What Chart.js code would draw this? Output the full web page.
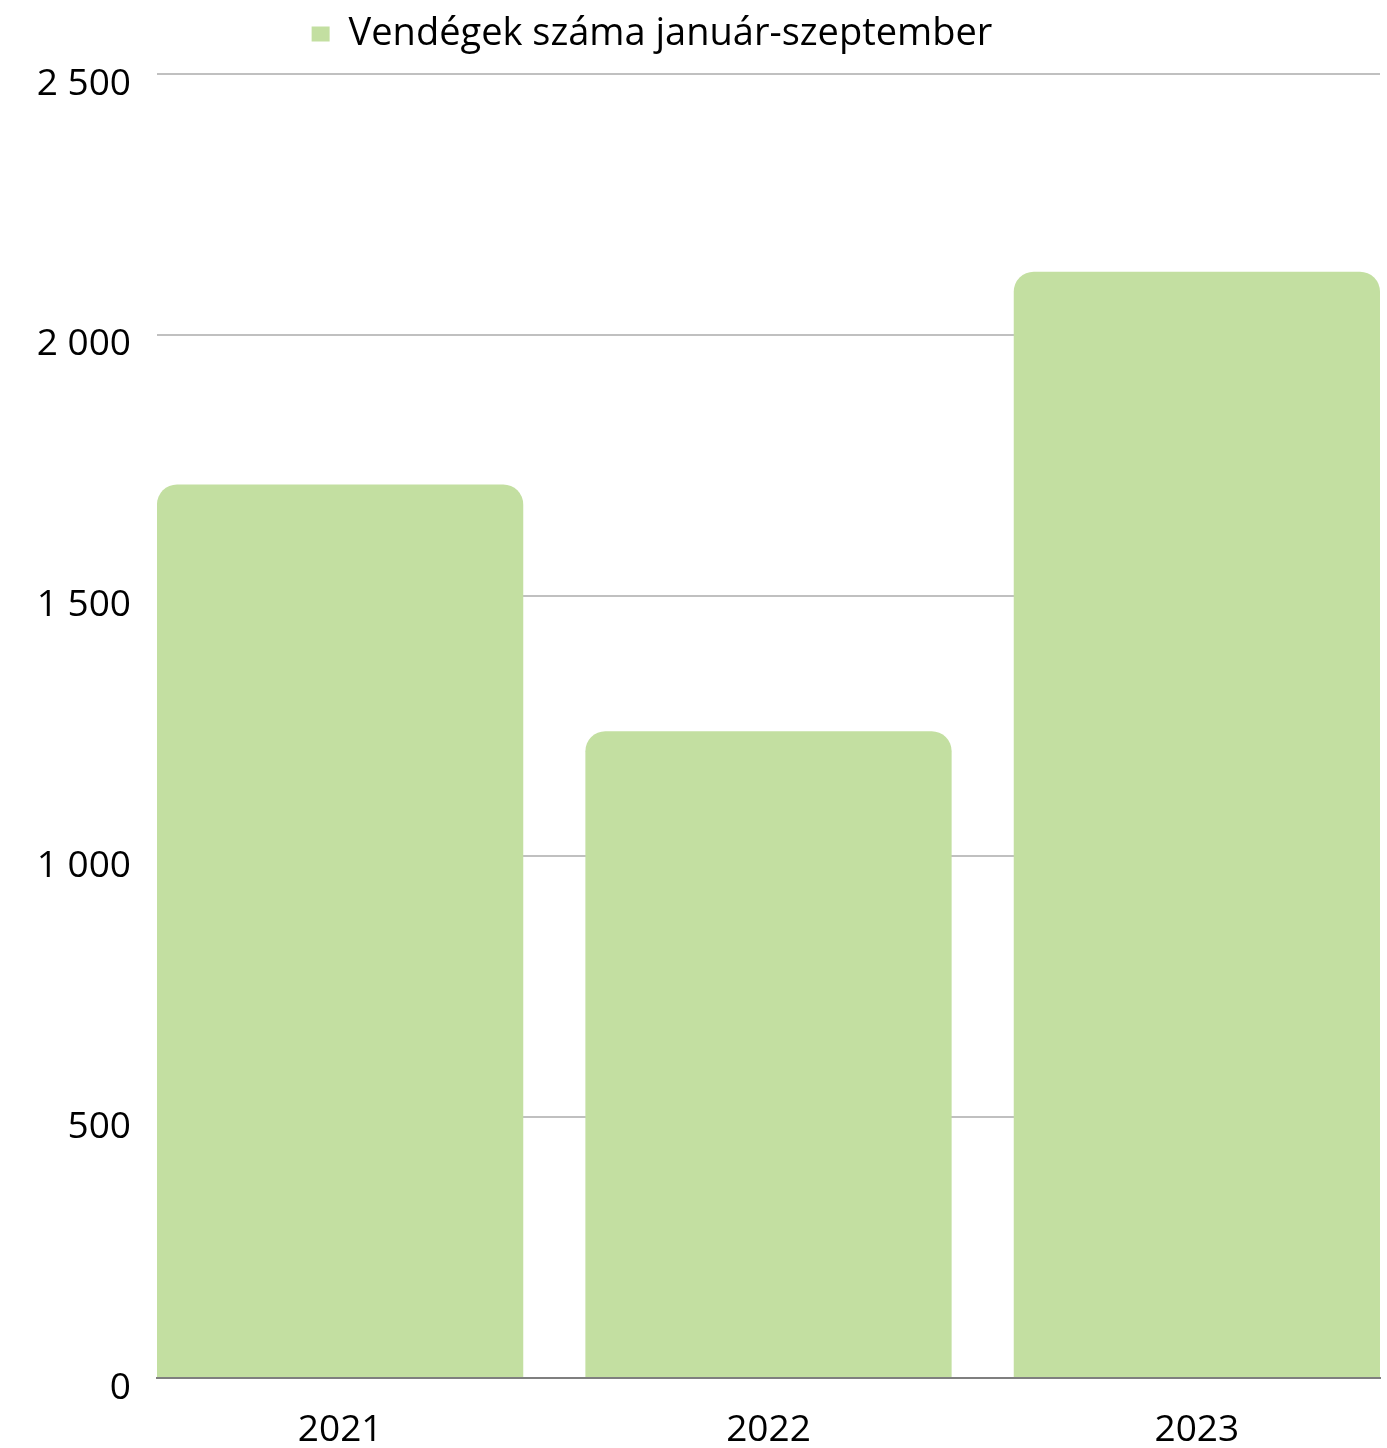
<!DOCTYPE html>
<html>
<head>
<meta charset="utf-8">
<script src="https://cdn.jsdelivr.net/npm/chart.js@4"></script>
<style>
  body { margin: 0; background: #fff; }
</style>
</head>
<body>
<canvas id="chart" width="1387" height="1448"></canvas>
<script>
const years = ["2021", "2022", "2023"];
const guests = [1713, 1240, 2121];
const yTicks = [0, 500, 1000, 1500, 2000, 2500];
const seriesName = "Vendégek száma január-szeptember";

// share of each slot the bar fills; outer bars touch the plot edges
const barFill = 0.855;

const fmt = v => String(v).replace(/\B(?=(\d{3})+(?!\d))/g, " ");

// legend: a bit left of centre and some extra room below it
const legendTweak = {
    id: "legendTweak",
    beforeLayout(chart) {
        const lg = chart.legend;
        if (lg && !lg._tweaked) {
            const fit = lg.fit;
            lg.fit = function () {
                fit.call(this);
                this.height += 11;
            };
            lg._tweaked = true;
        }
    },
    afterLayout(chart) {
        chart.legend.left -= 38;
        chart.legend.right -= 38;
    }
};

Chart.defaults.font.family = "'Open Sans', sans-serif";
Chart.defaults.color = "#000";

new Chart(document.getElementById("chart"), {
    type: "bar",
    data: {
        datasets: [{
            label: seriesName,
            data: guests.map((v, i) => ({ x: i, y: v })),
            backgroundColor: "#c3dfa1",
            borderRadius: { topLeft: 20, topRight: 20 },
            borderSkipped: "bottom",
            barPercentage: barFill,
            categoryPercentage: 1.0
        }]
    },
    options: {
        responsive: false,
        animation: false,
        devicePixelRatio: 1,
        layout: { padding: { right: 7, bottom: 0 } },
        plugins: {
            legend: {
                labels: {
                    font: { size: 38 },
                    boxWidth: 18,
                    boxHeight: 15,
                    padding: 15
                }
            },
            tooltip: { enabled: false }
        },
        scales: {
            x: {
                type: "linear",
                offset: false,
                min: -barFill / 2,
                max: years.length - 1 + barFill / 2,
                afterBuildTicks(scale) {
                    scale.ticks = years.map((y, i) => ({ value: i }));
                },
                afterFit(scale) { scale.height = 70; },
                grid: { display: false, drawTicks: false },
                border: { display: true, color: "#7f7f7f", width: 2 },
                ticks: {
                    font: { size: 37 },
                    padding: 30,
                    autoSkip: false,
                    maxRotation: 0,
                    callback: v => years[v]
                }
            },
            y: {
                min: yTicks[0],
                max: yTicks[yTicks.length - 1],
                afterBuildTicks(scale) {
                    scale.ticks = yTicks.map(v => ({ value: v }));
                },
                afterFit(scale) { scale.width = 157; },
                grid: { color: "#c0c0c0", lineWidth: 2, drawTicks: false },
                border: { display: false },
                ticks: {
                    font: { size: 37 },
                    padding: 26,
                    labelOffset: 10,
                    callback: v => fmt(v)
                }
            }
        }
    },
    plugins: [legendTweak]
});
</script>
</body>
</html>
